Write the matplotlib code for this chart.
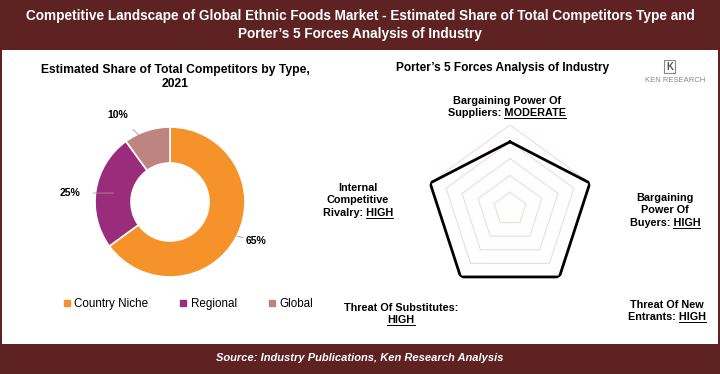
import matplotlib
matplotlib.use("Agg")
import matplotlib.pyplot as plt
import numpy as np
from matplotlib.lines import Line2D
from matplotlib.patches import Rectangle

# ---------------------------------------------------------------------------
# Data
# ---------------------------------------------------------------------------
competitor_types = ["Country Niche", "Regional", "Global"]
competitor_share = [65, 25, 10]
share_labels = ["65%", "25%", "10%"]

forces = [
    "Bargaining Power Of Suppliers",
    "Bargaining Power Of Buyers",
    "Threat Of New Entrants",
    "Threat Of Substitutes",
    "Internal Competitive Rivalry",
]
force_levels = [4, 5, 5, 5, 5]          # 1..5 scale, MODERATE=4, HIGH=5
force_ratings = ["MODERATE", "HIGH", "HIGH", "HIGH", "HIGH"]
grid_levels = [1, 2, 3, 4, 5]

TITLE = ("Competitive Landscape of Global Ethnic Foods Market - Estimated Share "
         "of Total Competitors Type and\nPorter\u2019s 5 Forces Analysis of Industry")
SOURCE = "Source: Industry Publications, Ken Research Analysis"

MAROON = "#5e2222"
PIE_COLORS = ["#f5932a", "#9a2c7c", "#c08480"]
GRID_COLOR = "#f2dada"

W, H = 720, 374
plt.rcParams["font.family"] = ["Liberation Sans", "DejaVu Sans"]
NARROW = ["Liberation Sans Narrow", "Liberation Sans", "DejaVu Sans"]

fig = plt.figure(figsize=(W / 100, H / 100), dpi=100)
fig.patch.set_facecolor("white")


def fx(x):
    return x / W


def fy(y):
    return 1 - y / H


# ── frame bands ─────────────────────────────────────────────────────────────
fig.add_artist(Rectangle((0, fy(50)), 1, 50 / H, transform=fig.transFigure,
                         facecolor=MAROON, edgecolor="none"))
fig.add_artist(Rectangle((0, 0), 1, (H - 344) / H, transform=fig.transFigure,
                         facecolor=MAROON, edgecolor="none"))
fig.add_artist(Rectangle((0, 0), 2 / W, 1, transform=fig.transFigure,
                         facecolor=MAROON, edgecolor="none"))
fig.add_artist(Rectangle((1 - 2 / W, 0), 2 / W, 1, transform=fig.transFigure,
                         facecolor=MAROON, edgecolor="none"))

fig.text(0.5, fy(25), TITLE, ha="center", va="center", color="white",
         fontsize=9.8, fontweight="bold", family=NARROW, linespacing=1.35)
fig.text(0.5, fy(358), SOURCE, ha="center", va="center", color="white",
         fontsize=8.0, fontweight="bold", fontstyle="italic", family=NARROW)

# ── donut ───────────────────────────────────────────────────────────────────
fig.text(fx(175), fy(77), "Estimated Share of Total Competitors by Type,\n2021",
         ha="center", va="center", fontsize=8.7, fontweight="bold",
         linespacing=1.2)

cx, cy, r = 170, 202, 75
ax = fig.add_axes([fx(cx - r), fy(cy + r), 2 * r / W, 2 * r / H])
wedges, _ = ax.pie(competitor_share, colors=PIE_COLORS, startangle=90,
                   counterclock=False, radius=1,
                   wedgeprops=dict(width=0.48, edgecolor="white", linewidth=1.2))
ax.set_xlim(-1, 1)
ax.set_ylim(-1, 1)
ax.set_aspect("auto")
ax.axis("off")

label_pos = [(1.15, -0.52), (-1.33, 0.12), (-0.7, 1.16)]
anchor_r = [1.0, 0.76, 0.76]
for w, txt, (tx, ty), ar in zip(wedges, share_labels, label_pos, anchor_r):
    ang = np.deg2rad((w.theta1 + w.theta2) / 2)
    px, py = ar * np.cos(ang), ar * np.sin(ang)
    ax.annotate(txt, xy=(px, py), xytext=(tx, ty), ha="center", va="center",
                fontsize=7.5, fontweight="bold", annotation_clip=False,
                arrowprops=dict(arrowstyle="-", color="#b09090", lw=0.6,
                                shrinkA=7, shrinkB=0))

handles = [Line2D([], [], marker="s", linestyle="none", color=c, markersize=5)
           for c in PIE_COLORS]
fig.legend(handles, competitor_types, loc="center", ncol=3,
           bbox_to_anchor=(fx(187), fy(304)), frameon=False, fontsize=8.4,
           handletextpad=0.15, columnspacing=2.5, handlelength=1.0)

# ── radar ───────────────────────────────────────────────────────────────────
fig.text(fx(503), fy(68), "Porter\u2019s 5 Forces Analysis of Industry",
         ha="center", va="center", fontsize=8.6, fontweight="bold")

rcx, rcy, rr = 510, 209, 84
rax = fig.add_axes([fx(rcx - rr), fy(rcy + rr), 2 * rr / W, 2 * rr / H],
                   projection="polar")
angles = np.linspace(0, 2 * np.pi, len(forces), endpoint=False)
closed = np.concatenate([angles, angles[:1]])
rax.set_theta_offset(np.pi / 2)
rax.set_theta_direction(-1)
for lvl in grid_levels:
    rax.plot(closed, [lvl] * len(closed), color=GRID_COLOR, lw=0.8)
vals = list(force_levels) + force_levels[:1]
rax.plot(closed, vals, color="black", lw=2.0, solid_joinstyle="miter")
rax.set_ylim(0, 5)
rax.set_xticks([])
rax.set_yticks([])
rax.spines["polar"].set_visible(False)
rax.grid(False)
rax.patch.set_alpha(0)

renderer = fig.canvas.get_renderer()


def draw_label(x, y_top, lines, word, step=12.3):
    """Centered multi-line label whose last line ends with an underlined word."""
    for i, line in enumerate(lines):
        y = y_top + i * step
        t = fig.text(fx(x), fy(y), line, ha="center", va="baseline",
                     fontsize=7.8, fontweight="bold")
        if i == len(lines) - 1:
            bb = t.get_window_extent(renderer)
            tw = fig.text(0, 0, word, fontsize=7.8, fontweight="bold")
            wb = tw.get_window_extent(renderer)
            tw.remove()
            x1 = bb.x1 / W
            x0 = (bb.x1 - wb.width) / W
            yl = fy(y + 2)
            fig.add_artist(Line2D([x0, x1], [yl, yl], color="black", lw=0.7,
                                  transform=fig.transFigure))


label_specs = [
    (507, 104, ["Bargaining Power Of", "Suppliers: MODERATE"]),
    (665, 201, ["Bargaining", "Power Of", "Buyers: HIGH"]),
    (667, 308, ["Threat Of New", "Entrants: HIGH"]),
    (401, 311, ["Threat Of Substitutes:", "HIGH"]),
    (358, 191, ["Internal", "Competitive", "Rivalry: HIGH"]),
]
for (x, y, lines), rating in zip(label_specs, force_ratings):
    draw_label(x, y, lines, rating)

# ── logo ────────────────────────────────────────────────────────────────────
fig.add_artist(Rectangle((fx(664), fy(73)), 11 / W, 13 / H,
                         transform=fig.transFigure, facecolor="white",
                         edgecolor="#888888", lw=0.8))
fig.text(fx(669.5), fy(66.5), "K", ha="center", va="center", fontsize=7,
         color="#555555", fontweight="bold")
fig.text(fx(675), fy(81), "KEN RESEARCH", ha="center", va="center",
         fontsize=5.5, color="#888888")

fig.savefig("out.png", dpi=100, facecolor=fig.get_facecolor())
